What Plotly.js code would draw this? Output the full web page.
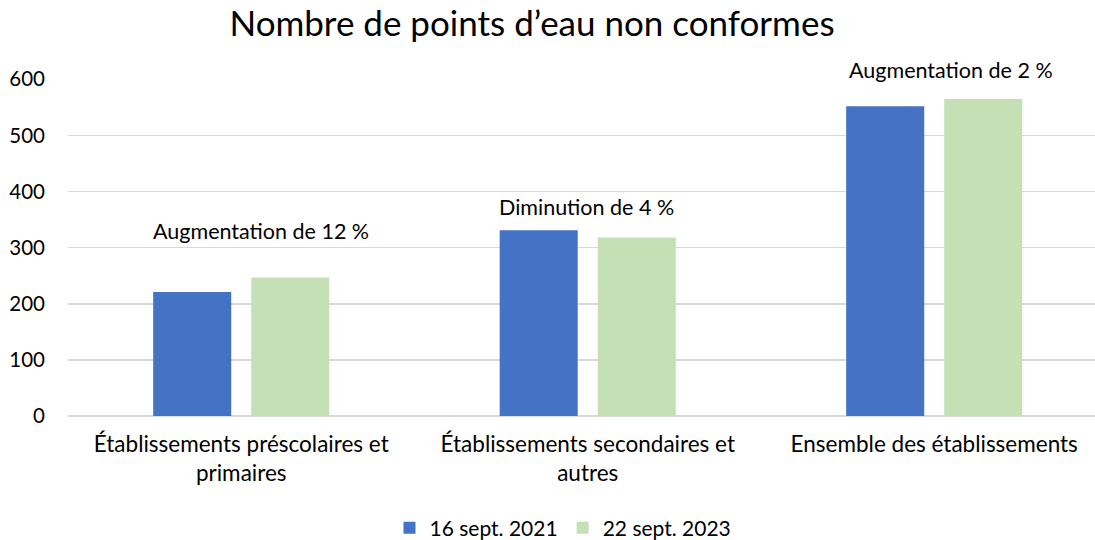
<!DOCTYPE html>
<html>
<head>
<meta charset="utf-8">
<script src="https://cdn.plot.ly/plotly-3.0.1.min.js"></script>
<style>html,body{margin:0;padding:0;background:#fff;}#chart{width:1095px;height:540px;}</style>
</head>
<body>
<div id="chart"></div>
<script>
const categories = ["Établissements préscolaires et<br>primaires", "Établissements secondaires et<br>autres", "Ensemble des établissements"];
const series2021 = [221, 331, 552];
const series2023 = [247, 318, 565];
const seriesNames = ["16 sept. 2021", "22 sept. 2023"];
const changeLabels = ["Augmentation de 12 %", "Diminution de 4 %", "Augmentation de 2 %"];
const titleText = "Nombre de points d’eau non conformes";

// label placement (paper coords / pixel shifts)
const labelY = [0.549, 0.620, 1.027];
const labelShift = [20, -1, 17];

const FONT = "Lato, 'Open Sans', sans-serif";

const traces = [
  {type: "bar", x: categories, y: series2021, name: seriesNames[0], marker: {color: "#4472C4"}},
  {type: "bar", x: categories, y: series2023, name: seriesNames[1], marker: {color: "#C5E0B4"}}
];

const annotations = changeLabels.map((t, i) => ({
  text: t, x: categories[i], y: labelY[i], xref: "x", yref: "paper",
  xshift: labelShift[i], showarrow: false, xanchor: "center", yanchor: "middle",
  bgcolor: "#fff", borderpad: 1,
  font: {family: FONT, size: 21.5, color: "#000"}
}));

const layout = {
  width: 1095, height: 540,
  margin: {l: 68, r: 0, t: 79, b: 124, autoexpand: false},
  paper_bgcolor: "#fff", plot_bgcolor: "#fff",
  font: {family: FONT, color: "#000"},
  title: {text: titleText, font: {family: FONT, size: 35, color: "#000"},
          x: 532/1095, xref: "container", xanchor: "center", y: 1 - 24/540, yref: "container", yanchor: "middle"},
  barmode: "group", bargap: 0.434, bargroupgap: 0.204,
  xaxis: {type: "category", range: [-0.5, 2.464], showgrid: false, zeroline: false, showline: false,
          ticks: "", automargin: false, ticklabelstandoff: 12,
          tickfont: {family: FONT, size: 22.5, color: "#000"}, fixedrange: true},
  yaxis: {range: [0, 600.5], tickvals: [0, 100, 200, 300, 400, 500, 600], showgrid: true, gridcolor: "#D9D9D9", gridwidth: 1.5,
          zeroline: true, zerolinecolor: "#D9D9D9", zerolinewidth: 1.5, showline: false, ticks: "", automargin: false,
          ticklabelstandoff: 22, tickfont: {family: FONT, size: 20.5, color: "#000"}, fixedrange: true},
  showlegend: true,
  legend: {orientation: "h", x: (563-68)/1027, xanchor: "center", y: (416-528)/337, yanchor: "middle",
           font: {family: FONT, size: 21, color: "#000"}, itemwidth: 30, traceorder: "normal"},
  annotations: annotations
};

Plotly.newPlot("chart", traces, layout, {displayModeBar: false, staticPlot: true});
</script>
</body>
</html>
